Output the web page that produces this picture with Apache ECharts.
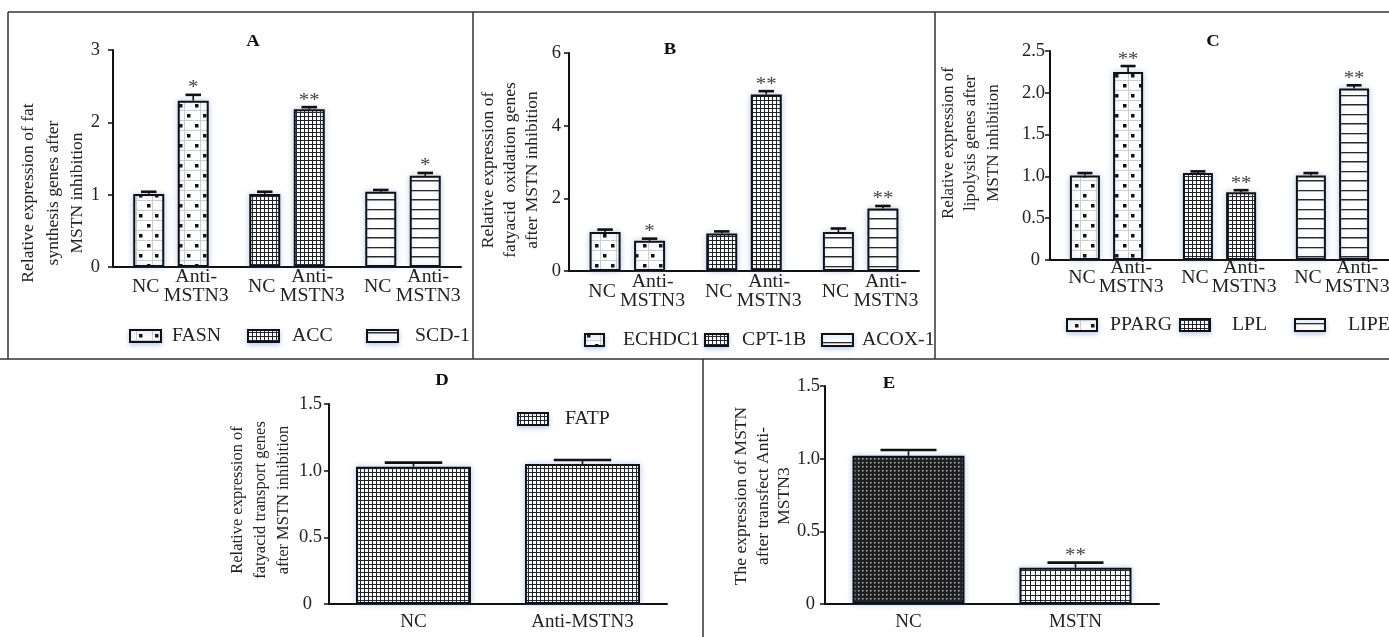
<!DOCTYPE html>
<html><head><meta charset="utf-8">
<script src="https://cdn.jsdelivr.net/npm/echarts@6/dist/echarts.min.js"></script>
<style>html,body{margin:0;padding:0;background:#fff}#c{width:1389px;height:637px}</style>
</head><body><div id="c"></div>
<script>
// ---------------- DATA ----------------
const pairLabels = ['NC', 'Anti-\nMSTN3'];

const genesA = ['FASN', 'ACC', 'SCD-1'];
const ncA = [1.01, 1.01, 1.04];
const ncErrA = [0.03, 0.03, 0.025];
const antiA = [2.30, 2.18, 1.26];
const antiErrA = [0.08, 0.03, 0.04];
const sigA = ['*', '**', '*'];
const ticksA = ['0', '1', '2', '3'];
const stepA = 1;

const genesB = ['ECHDC1', 'CPT-1B', 'ACOX-1'];
const ncB = [1.07, 1.03, 1.07];
const ncErrB = [0.07, 0.06, 0.10];
const antiB = [0.83, 4.86, 1.72];
const antiErrB = [0.06, 0.09, 0.07];
const sigB = ['*', '**', '**'];
const ticksB = ['0', '2', '4', '6'];
const stepB = 2;

const genesC = ['PPARG', 'LPL', 'LIPE'];
const ncC = [1.01, 1.04, 1.01];
const ncErrC = [0.03, 0.02, 0.03];
const antiC = [2.25, 0.81, 2.05];
const antiErrC = [0.07, 0.025, 0.04];
const sigC = ['**', '**', '**'];
const ticksC = ['0', '0.5', '1.0', '1.5', '2.0', '2.5'];
const stepC = 0.5;

const catsD = ['NC', 'Anti-MSTN3'];
const geneD = ['FATP'];
const valD = [1.03, 1.05];
const errD = [0.03, 0.03];
const sigD = ['', ''];
const ticksD = ['0', '0.5', '1.0', '1.5'];
const stepD = 0.5;

const catsE = ['NC', 'MSTN'];
const valE = [1.02, 0.25];
const errE = [0.04, 0.035];
const sigE = ['', '**'];
const ticksE = ['0', '0.5', '1.0', '1.5'];
const stepE = 0.5;

const titles = ['A', 'B', 'C', 'D', 'E'];
const yNames = [
  'Relative expression of fat\nsynthesis genes after\nMSTN inhibition',
  'Relative expression of\nfatyacid  oxidation genes\nafter MSTN inhibition',
  'Relative expression of\nlipolysis genes after\nMSTN inhibition',
  'Relative expression of\nfatyacid transport genes\nafter MSTN inhibition',
  'The expression of MSTN\nafter transfect Anti-\nMSTN3'
];

// ---------------- STYLE ----------------
const FONT = '"Liberation Serif", "Times New Roman", serif';
const TXT = '#222';
const SX = 1.1; // horizontal stretch of the reference lettering
const chart = echarts.init(document.getElementById('c'), null, { renderer: 'canvas' });

function mkCanvas(w, h) { const c = document.createElement('canvas'); c.width = w; c.height = h; return c; }
function mkDots() {
  const c = mkCanvas(16, 20), g = c.getContext('2d');
  g.fillStyle = '#fff'; g.fillRect(0, 0, 16, 20);
  g.strokeStyle = '#cfcfcf'; g.lineWidth = 1;
  g.beginPath(); g.moveTo(8.5, 0); g.lineTo(8.5, 20); g.moveTo(0, 0.5); g.lineTo(16, 0.5); g.moveTo(0, 10.5); g.lineTo(16, 10.5); g.stroke();
  g.fillStyle = '#111';
  g.fillRect(3, 4, 3.5, 3.5); g.fillRect(11, 14, 3.5, 3.5);
  return { image: c, repeat: 'repeat' };
}
function mkGrid(n) {
  const c = mkCanvas(n, n), g = c.getContext('2d');
  g.fillStyle = '#fff'; g.fillRect(0, 0, n, n);
  g.fillStyle = '#222'; g.fillRect(0, 0, n, 1); g.fillRect(0, 0, 1, n);
  return { image: c, repeat: 'repeat' };
}
function mkHL() {
  const c = mkCanvas(4, 19), g = c.getContext('2d');
  g.fillStyle = '#fff'; g.fillRect(0, 0, 4, 19);
  g.fillStyle = '#2a2a2a'; g.fillRect(0, 0, 4, 1.3); g.fillRect(0, 9, 4, 1.5);
  return { image: c, repeat: 'repeat' };
}
function mkDense() {
  const c = mkCanvas(4, 4), g = c.getContext('2d');
  g.fillStyle = '#1e1e1e'; g.fillRect(0, 0, 4, 4);
  g.fillStyle = '#bbb'; g.fillRect(2, 2, 1.5, 1.5);
  return { image: c, repeat: 'repeat' };
}
const PAT = { dots: mkDots(), grid: mkGrid(4), hl: mkHL(), dense: mkDense(), grid5: mkGrid(5) };
const triPat = [PAT.dots, PAT.grid, PAT.hl];

const grids = [
  { left: 113, top: 50, width: 348, height: 217 },
  { left: 569, top: 53, width: 350, height: 218 },
  { left: 1050, top: 51, width: 342, height: 209 },
  { left: 329, top: 404, width: 338, height: 200 },
  { left: 825, top: 386, width: 334, height: 218 }
];
const barStyle = { borderColor: '#111', borderWidth: 2, shadowBlur: 6, shadowColor: 'rgba(80,130,210,0.35)' };

const xAxes = [], yAxes = [], series = [];

function yAxisFor(i, labels, step, margin, zeroPad) {
  return {
    type: 'value', gridIndex: i, min: 0, max: step * (labels.length - 1), interval: step,
    axisLine: { show: true, lineStyle: { color: '#111', width: 2 } },
    axisTick: { show: true, length: 5, lineStyle: { color: '#111', width: 1.5 } },
    splitLine: { show: false },
    axisLabel: {
      margin: margin, fontFamily: FONT, fontSize: 18.5, color: TXT,
      formatter: v => { const k = Math.round(v / step); return k === 0 ? '{z|' + labels[0] + '}' : labels[k]; },
      rich: { z: { fontFamily: FONT, fontSize: 18.5, color: TXT, padding: [0, zeroPad, 0, 0] } }
    }
  };
}

function errRenderer(cfg) {
  return function (params, api) {
    const cat = api.value(0), side = api.value(1), v = api.value(2), e = api.value(3);
    const base = api.coord([cat, 0]), et = api.coord([cat, v + e]), top = api.coord([cat, v]);
    const x = base[0] + (cfg.off ? (side ? cfg.off : -cfg.off) : 0);
    const ch = [
      { type: 'line', shape: { x1: x, y1: top[1], x2: x, y2: et[1] }, style: { stroke: '#111', lineWidth: 1.6 } },
      { type: 'line', shape: { x1: x - cfg.cap / 2, y1: et[1], x2: x + cfg.cap / 2, y2: et[1] }, style: { stroke: '#111', lineWidth: 2.6 } }
    ];
    const s = cfg.sig[params.dataIndex];
    if (s) ch.push({ type: 'text', x: x, y: et[1] + 3, scaleX: SX, style: { text: s, fontFamily: FONT, fontSize: 19, fill: '#444', align: 'center', verticalAlign: 'bottom' } });
    if (cfg.labels) {
      ch.push({ type: 'text', x: x + (side ? cfg.dx : -cfg.dx), y: base[1] + cfg.dy, scaleX: SX,
        style: { text: cfg.labels[side], fontFamily: FONT, fontSize: 18, lineHeight: 19, fill: TXT, align: 'center', verticalAlign: 'middle' } });
    }
    return { type: 'group', children: ch };
  };
}

function pairPanel(i, genes, nc, ncErr, anti, antiErr, sig, ticks, step, o) {
  xAxes.push({ type: 'category', gridIndex: i, data: genes, axisLine: { lineStyle: { color: '#111', width: 2 } }, axisTick: { show: false }, axisLabel: { show: false } });
  yAxes.push(yAxisFor(i, ticks, step, o.margin, o.zeroPad));
  const mk = arr => arr.map((v, k) => ({ value: v, itemStyle: { color: triPat[k] } }));
  series.push({ type: 'bar', name: 'NC', xAxisIndex: i, yAxisIndex: i, barWidth: o.barW, barGap: o.gap, data: mk(nc), itemStyle: barStyle, silent: true });
  series.push({ type: 'bar', name: 'Anti-MSTN3', xAxisIndex: i, yAxisIndex: i, barWidth: o.barW, barGap: o.gap, data: mk(anti), itemStyle: barStyle, silent: true });
  const data = [], sigs = [];
  genes.forEach((g, k) => { data.push([k, 0, nc[k], ncErr[k]]); sigs.push(''); data.push([k, 1, anti[k], antiErr[k]]); sigs.push(sig[k]); });
  series.push({ type: 'custom', xAxisIndex: i, yAxisIndex: i, data: data, encode: { x: 0, y: 2 }, z: 5, silent: true,
    renderItem: errRenderer({ off: (o.barW * (1 + parseFloat(o.gap) / 100)) / 2, cap: o.barW * 0.5, sig: sigs, labels: pairLabels, dx: 3, dy: o.dy }) });
}

pairPanel(0, genesA, ncA, ncErrA, antiA, antiErrA, sigA, ticksA, stepA, { barW: 31, gap: '43.5%', dy: 20, margin: 13, zeroPad: 0 });
pairPanel(1, genesB, ncB, ncErrB, antiB, antiErrB, sigB, ticksB, stepB, { barW: 31, gap: '43.5%', dy: 21, margin: 8, zeroPad: 0 });
pairPanel(2, genesC, ncC, ncErrC, antiC, antiErrC, sigC, ticksC, stepC, { barW: 30, gap: '44%', dy: 18, margin: 5, zeroPad: 5 });

function singlePanel(i, cats, vals, errs, sigs, pats, ticks, step, o) {
  xAxes.push({ type: 'category', gridIndex: i, data: cats, axisLine: { lineStyle: { color: '#111', width: 2 } }, axisTick: { show: false },
    axisLabel: { margin: 9, fontFamily: FONT, fontSize: 19, color: TXT } });
  yAxes.push(yAxisFor(i, ticks, step, o.margin, o.zeroPad));
  series.push({ type: 'bar', xAxisIndex: i, yAxisIndex: i, barWidth: o.barW, itemStyle: barStyle, silent: true,
    data: vals.map((v, k) => ({ value: v, itemStyle: { color: pats[k] } })) });
  series.push({ type: 'custom', xAxisIndex: i, yAxisIndex: i, encode: { x: 0, y: 2 }, z: 5, silent: true,
    data: vals.map((v, k) => [k, 0, v, errs[k]]),
    renderItem: errRenderer({ off: 0, cap: o.barW * 0.5, sig: sigs }) });
}
singlePanel(3, catsD, valD, errD, sigD, [PAT.grid, PAT.grid], ticksD, stepD, { barW: 115, margin: 7, zeroPad: 10 });
singlePanel(4, catsE, valE, errE, sigE, [PAT.dense, PAT.grid5], ticksE, stepE, { barW: 112, margin: 5, zeroPad: 5 });

// ---------------- GRAPHICS (frames, titles, axis names, legends) ----------------
const G = [];
const L = (x1, y1, x2, y2) => G.push({ type: 'line', z: 20, shape: { x1, y1, x2, y2 }, style: { stroke: '#333', lineWidth: 1.5 } });

const titlePos = [[253, 42], [670, 50], [1213, 42], [442, 381], [889, 384]];
titles.forEach((t, k) => G.push({ type: 'text', x: titlePos[k][0], y: titlePos[k][1], scaleX: SX,
  style: { text: t, fontFamily: FONT, fontWeight: 'bold', fontSize: 17, fill: '#111', align: 'center', verticalAlign: 'middle' } }));

const namePos = [[53, 193, 17.5, 24.5], [510, 170, 17.5, 22], [971, 143, 17, 22.5], [261, 500, 16.5, 23], [763, 496, 17.5, 21.5]];
yNames.forEach((t, k) => G.push({ type: 'text', x: namePos[k][0], y: namePos[k][1], rotation: Math.PI / 2,
  style: { text: t, fontFamily: FONT, fontSize: namePos[k][2], lineHeight: namePos[k][3], fill: TXT, align: 'center', verticalAlign: 'middle' } }));

function legend(names, pats, icons, textX, cy) {
  names.forEach((n, k) => {
    G.push({ type: 'rect', shape: { x: icons[k][0], y: cy - 6, width: icons[k][1], height: 12 },
      style: { fill: pats[k], stroke: '#111', lineWidth: 2, shadowBlur: 5, shadowColor: 'rgba(80,130,210,0.35)', shadowOffsetY: 2 } });
    G.push({ type: 'text', x: textX[k], y: cy, scaleX: SX, style: { text: n, fontFamily: FONT, fontSize: 18, fill: TXT, align: 'left', verticalAlign: 'middle' } });
  });
}
legend(genesA, triPat, [[130, 31], [248, 31], [367, 31]], [172, 292, 415], 336);
legend(genesB, triPat, [[585, 19], [705, 23], [822, 31]], [623, 742, 862], 340);
legend(genesC, triPat, [[1067, 30], [1180, 30], [1295, 30]], [1110, 1232, 1348], 325);
legend(geneD, [PAT.grid], [[518, 30]], [565], 419);
// clip overflowing legend text at the B|C divider
G.push({ type: 'rect', z: 15, shape: { x: 936, y: 326, width: 30, height: 28 }, style: { fill: '#fff' } });

L(8, 12, 1389, 12);
L(8, 12, 8, 359);
L(473, 12, 473, 359);
L(935, 12, 935, 359);
L(0, 359, 1389, 359);
L(703, 359, 703, 637);

chart.setOption({
  animation: false,
  backgroundColor: '#fff',
  grid: grids,
  xAxis: xAxes,
  yAxis: yAxes,
  series: series,
  graphic: G
});
</script></body></html>
